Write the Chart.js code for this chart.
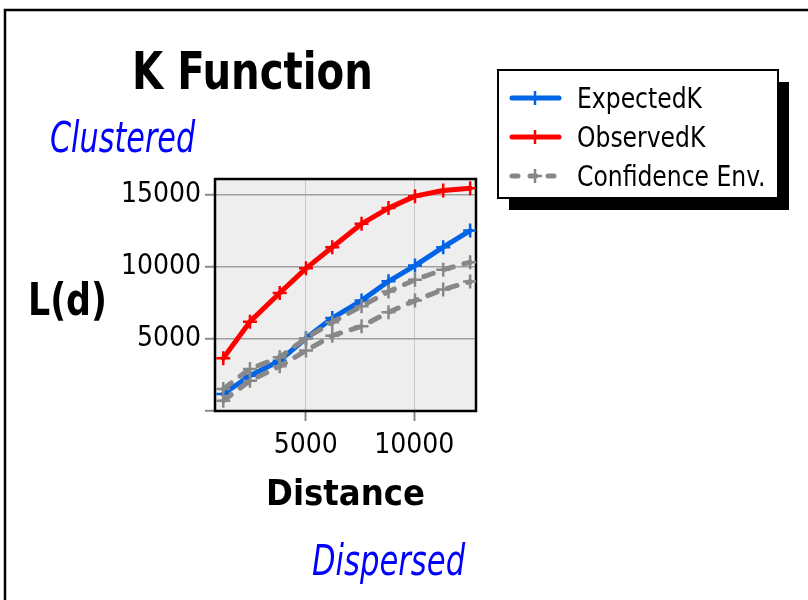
<!DOCTYPE html>
<html>
<head>
<meta charset="utf-8">
<title>K Function</title>
<script src="https://cdn.jsdelivr.net/npm/chart.js@4.4.0/dist/chart.umd.min.js"></script>
<style>
  html, body { margin: 0; padding: 0; background: #fff; }
</style>
</head>
<body>
<canvas id="kChart" width="808" height="600"></canvas>
<script>
// values
const distances = [1200, 2430, 3800, 5010, 6220, 7570, 8810, 10030, 11330, 12570];
const expectedK = [1180, 2450, 3490, 5050, 6450, 7660, 9000, 10090, 11370, 12520];
const observedK = [3660, 6200, 8190, 9900, 11360, 12990, 14080, 14910, 15300, 15460];
const upperEnv  = [1530, 2920, 3730, 5050, 6160, 7270, 8290, 9100, 9810, 10325];
const lowerEnv  = [715, 2100, 3100, 4190, 5230, 5880, 6850, 7660, 8430, 8980];
const xTicks = [5000, 10000];
const yTicks = [0, 5000, 10000, 15000];

const narrow = "'DejaVu Sans Condensed', 'DejaVu Sans', sans-serif";
const blue = '#0064e6';
const red = '#ff0000';
const gray = '#888888';

const toPoints = (ys) => distances.map((x, i) => ({ x: x, y: ys[i] }));

const lineSet = (label, ys, color, order, dash) => ({
    label: label,
    data: toPoints(ys),
    borderColor: color,
    backgroundColor: color,
    borderWidth: 5,
    borderDash: dash || [],
    borderCapStyle: 'round',
    borderJoinStyle: 'round',
    pointStyle: 'cross',
    pointRadius: 7,
    pointBorderWidth: 2.5,
    pointBorderColor: color,
    tension: 0,
    order: order,
});

// text squeezed sideways so it keeps the tall, narrow look of the original
const squeezed = (ctx, text, x, y, font, sx) => {
    ctx.save();
    ctx.font = font;
    ctx.translate(x, y);
    ctx.scale(sx, 1);
    ctx.fillText(text, 0, 0);
    ctx.restore();
};

// draws the frame, plot background, free texts and the boxed legend
const decor = {
    id: 'decor',
    beforeDraw(chart) {
        const { ctx, chartArea: a } = chart;
        ctx.save();
        ctx.fillStyle = '#fff';
        ctx.fillRect(0, 0, chart.width, chart.height);
        ctx.strokeStyle = '#000';
        ctx.lineWidth = 2.5;
        ctx.strokeRect(5, 10, 1000, 1000);
        ctx.fillStyle = '#eeeeee';
        ctx.fillRect(a.left, a.top, a.right - a.left, a.bottom - a.top);
        ctx.restore();
    },
    beforeDatasetsDraw(chart) {
        const { ctx, chartArea: a } = chart;
        ctx.save();
        ctx.strokeStyle = '#000';
        ctx.lineWidth = 2.5;
        ctx.strokeRect(a.left, a.top, a.right - a.left, a.bottom - a.top);
        ctx.restore();
    },
    afterDraw(chart) {
        const ctx = chart.ctx;
        ctx.save();
        ctx.textBaseline = 'alphabetic';
        ctx.textAlign = 'left';
        ctx.fillStyle = '#000';
        squeezed(ctx, 'K Function', 132, 89, 'bold 52px ' + narrow, 0.86);
        squeezed(ctx, 'L(d)', 28, 315, 'bold 44px ' + narrow, 0.88);
        ctx.fillStyle = '#0000ff';
        squeezed(ctx, 'Clustered', 50, 152, 'italic 42px ' + narrow, 0.8);
        squeezed(ctx, 'Dispersed', 312, 575, 'italic 42px ' + narrow, 0.81);

        // legend box with shadow
        const bx = 498, by = 70, bw = 280, bh = 128;
        ctx.fillStyle = '#000';
        ctx.fillRect(bx + 11, by + 12, bw, bh);
        ctx.fillStyle = '#fff';
        ctx.fillRect(bx, by, bw, bh);
        ctx.strokeStyle = '#000';
        ctx.lineWidth = 2;
        ctx.strokeRect(bx, by, bw, bh);

        const seen = [];
        let row = 0;
        chart.data.datasets.slice().sort((p, q) => p.legendIndex - q.legendIndex).forEach((ds) => {
            if (seen.includes(ds.label)) return;
            seen.push(ds.label);
            const cy = 98 + row * 39;
            ctx.strokeStyle = ds.borderColor;
            ctx.lineWidth = 5;
            ctx.lineCap = 'round';
            ctx.setLineDash(ds.borderDash.length ? [6, 12] : []);
            ctx.beginPath();
            ctx.moveTo(512, cy);
            ctx.lineTo(559, cy);
            ctx.stroke();
            ctx.setLineDash([]);
            ctx.lineWidth = 2.5;
            ctx.lineCap = 'butt';
            ctx.beginPath();
            ctx.moveTo(535, cy - 7);
            ctx.lineTo(535, cy + 7);
            ctx.moveTo(528, cy);
            ctx.lineTo(542, cy);
            ctx.stroke();
            ctx.fillStyle = '#000';
            ctx.textBaseline = 'alphabetic';
            squeezed(ctx, ds.label, 577, cy + 10, '29px ' + narrow, 0.9);
            row++;
        });
        ctx.restore();
    }
};

window.onload = () => {
    const datasets = [
        lineSet('Confidence Env.', upperEnv, gray, 0, [10, 11]),
        lineSet('Confidence Env.', lowerEnv, gray, 0, [10, 11]),
        lineSet('ExpectedK', expectedK, blue, 1),
        lineSet('ObservedK', observedK, red, 2),
    ];
    datasets[0].legendIndex = 2;
    datasets[1].legendIndex = 3;
    datasets[2].legendIndex = 0;
    datasets[3].legendIndex = 1;

    new Chart(document.getElementById('kChart'), {
        type: 'line',
        data: { datasets: datasets },
        options: {
            responsive: false,
            animation: false,
            layout: { padding: { top: 179, right: 332, left: 0, bottom: 0 } },
            plugins: {
                legend: { display: false },
                tooltip: { enabled: false },
            },
            scales: {
                x: {
                    type: 'linear',
                    min: 820,
                    max: 12840,
                    afterBuildTicks: (s) => { s.ticks = xTicks.map(v => ({ value: v })); },
                    afterFit: (s) => { s.height = 189; },
                    grid: { color: '#c8c8c8', lineWidth: 1, tickLength: 10, tickColor: '#888', tickWidth: 2 },
                    border: { display: false },
                    ticks: {
                        color: '#000',
                        font: { family: narrow, size: 28 },
                        padding: 8,
                        maxRotation: 0,
                        callback: (v) => String(v),
                    },
                    title: {
                        display: true,
                        text: 'Distance',
                        color: '#000',
                        font: { family: narrow, size: 36, weight: 'bold' },
                        padding: { top: 0, bottom: 83 },
                    },
                },
                y: {
                    min: 0,
                    max: 16100,
                    afterBuildTicks: (s) => { s.ticks = yTicks.map(v => ({ value: v })); },
                    afterFit: (s) => { s.width = 215; },
                    grid: { color: '#a0a0a0', lineWidth: 1.5, tickLength: 10, tickColor: '#888', tickWidth: 2 },
                    border: { display: false },
                    ticks: {
                        color: '#000',
                        font: { family: narrow, size: 28 },
                        padding: 4,
                        callback: (v) => v === 0 ? '' : String(v),
                    },
                },
            },
        },
        plugins: [decor],
    });
};
</script>
</body>
</html>
